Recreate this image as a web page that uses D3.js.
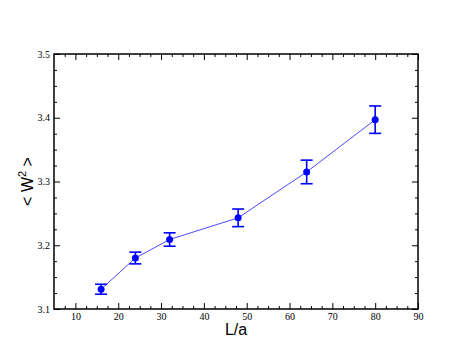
<!DOCTYPE html>
<html>
<head>
<meta charset="UTF-8">
<title>W2 vs L/a</title>
<script src="https://cdn.jsdelivr.net/npm/d3@7"></script>
<style>
    body { margin: 0; background: #fff; }
    .axis line { stroke: #000; }
    .title { font-family: "Liberation Sans", Arial, sans-serif; font-size: 16px; }
</style>
</head>
<body>
<script>
    var Lvals = [16, 24, 32, 48, 64, 80];
    var W2 = [3.131, 3.180, 3.209, 3.243, 3.315, 3.397];
    var W2err = [0.0078, 0.0092, 0.0105, 0.0138, 0.0185, 0.0215];
    var xTicks = [10, 20, 30, 40, 50, 60, 70, 80, 90];
    var yTicks = [3.1, 3.2, 3.3, 3.4, 3.5];

    var W = 471, H = 364;
    var margin = {top: 54, right: 53, bottom: 55, left: 54};
    var width = W - margin.left - margin.right,
        height = H - margin.top - margin.bottom;

    var x = d3.scaleLinear().domain([5, 90]).range([0, width]);
    var y = d3.scaleLinear().domain([3.1, 3.5]).range([height, 0]);

    var svg = d3.select("body").append("svg")
        .attr("width", W).attr("height", H);
    var g = svg.append("g")
        .attr("transform", `translate(${margin.left},${margin.top})`);

    var xMinor = d3.range(7.5, 90, 2.5).filter(v => v % 10 !== 0);
    var yMinor = d3.range(3.1, 3.5, 0.025).filter(v => Math.abs(v * 10 - Math.round(v * 10)) > 0.01);

    function ticks(axisFn, scale, vals, len, labels, tr) {
        var a = axisFn(scale).tickValues(vals).tickSizeInner(-len).tickSizeOuter(0);
        if (labels) a.tickFormat(d3.format(".1~f")).tickPadding(4); else a.tickFormat("");
        var sel = g.append("g").attr("class", "axis").attr("transform", tr).call(a);
        sel.select(".domain").remove();
        sel.selectAll("text")
            .attr("font-family", "'Liberation Serif', 'DejaVu Serif', serif")
            .attr("font-size", 10).attr("fill", "#000");
        return sel;
    }
    // bottom / top / left / right, major + minor
    ticks(d3.axisBottom, x, xTicks, 6, true, `translate(0,${height})`);
    ticks(d3.axisBottom, x, xMinor, 3, false, `translate(0,${height})`);
    ticks(d3.axisTop, x, xTicks, 6, false, "translate(0,0)");
    ticks(d3.axisTop, x, xMinor, 3, false, "translate(0,0)");
    ticks(d3.axisLeft, y, yTicks, 6, true, "translate(0,0)");
    ticks(d3.axisLeft, y, yMinor, 3, false, "translate(0,0)");
    ticks(d3.axisRight, y, yTicks, 6, false, `translate(${width},0)`);
    ticks(d3.axisRight, y, yMinor, 3, false, `translate(${width},0)`);

    g.append("rect")
        .attr("width", width).attr("height", height)
        .attr("fill", "none").attr("stroke", "#000").attr("stroke-width", 1.5);

    var data = Lvals.map((L, i) => ({L: L, w: W2[i], e: W2err[i]}));

    g.append("path")
        .datum(data)
        .attr("fill", "none")
        .attr("stroke", "#4a4aff")
        .attr("stroke-width", 1)
        .attr("d", d3.line().x(d => x(d.L)).y(d => y(d.w)));

    var eb = g.selectAll(".err").data(data).enter().append("g")
        .attr("stroke", "#0000ff").attr("stroke-width", 1.6);
    eb.append("line")
        .attr("x1", d => x(d.L)).attr("x2", d => x(d.L))
        .attr("y1", d => y(d.w - d.e)).attr("y2", d => y(d.w + d.e));
    eb.append("line")
        .attr("x1", d => x(d.L) - 6).attr("x2", d => x(d.L) + 6)
        .attr("y1", d => y(d.w + d.e)).attr("y2", d => y(d.w + d.e));
    eb.append("line")
        .attr("x1", d => x(d.L) - 6).attr("x2", d => x(d.L) + 6)
        .attr("y1", d => y(d.w - d.e)).attr("y2", d => y(d.w - d.e));

    g.selectAll(".pt").data(data).enter().append("circle")
        .attr("cx", d => x(d.L)).attr("cy", d => y(d.w))
        .attr("r", 3.5).attr("fill", "#0000ff");

    svg.append("text").attr("class", "title")
        .attr("x", margin.left + width / 2).attr("y", 335)
        .attr("text-anchor", "middle").text("L/a");

    var yl = svg.append("text").attr("class", "title")
        .attr("transform", `translate(33,${margin.top + height / 2}) rotate(-90)`)
        .attr("text-anchor", "middle");
    yl.append("tspan").text("< W");
    yl.append("tspan").attr("dy", -7).attr("font-size", 11).text("2");
    yl.append("tspan").attr("dy", 7).text(" >");
</script>
</body>
</html>
